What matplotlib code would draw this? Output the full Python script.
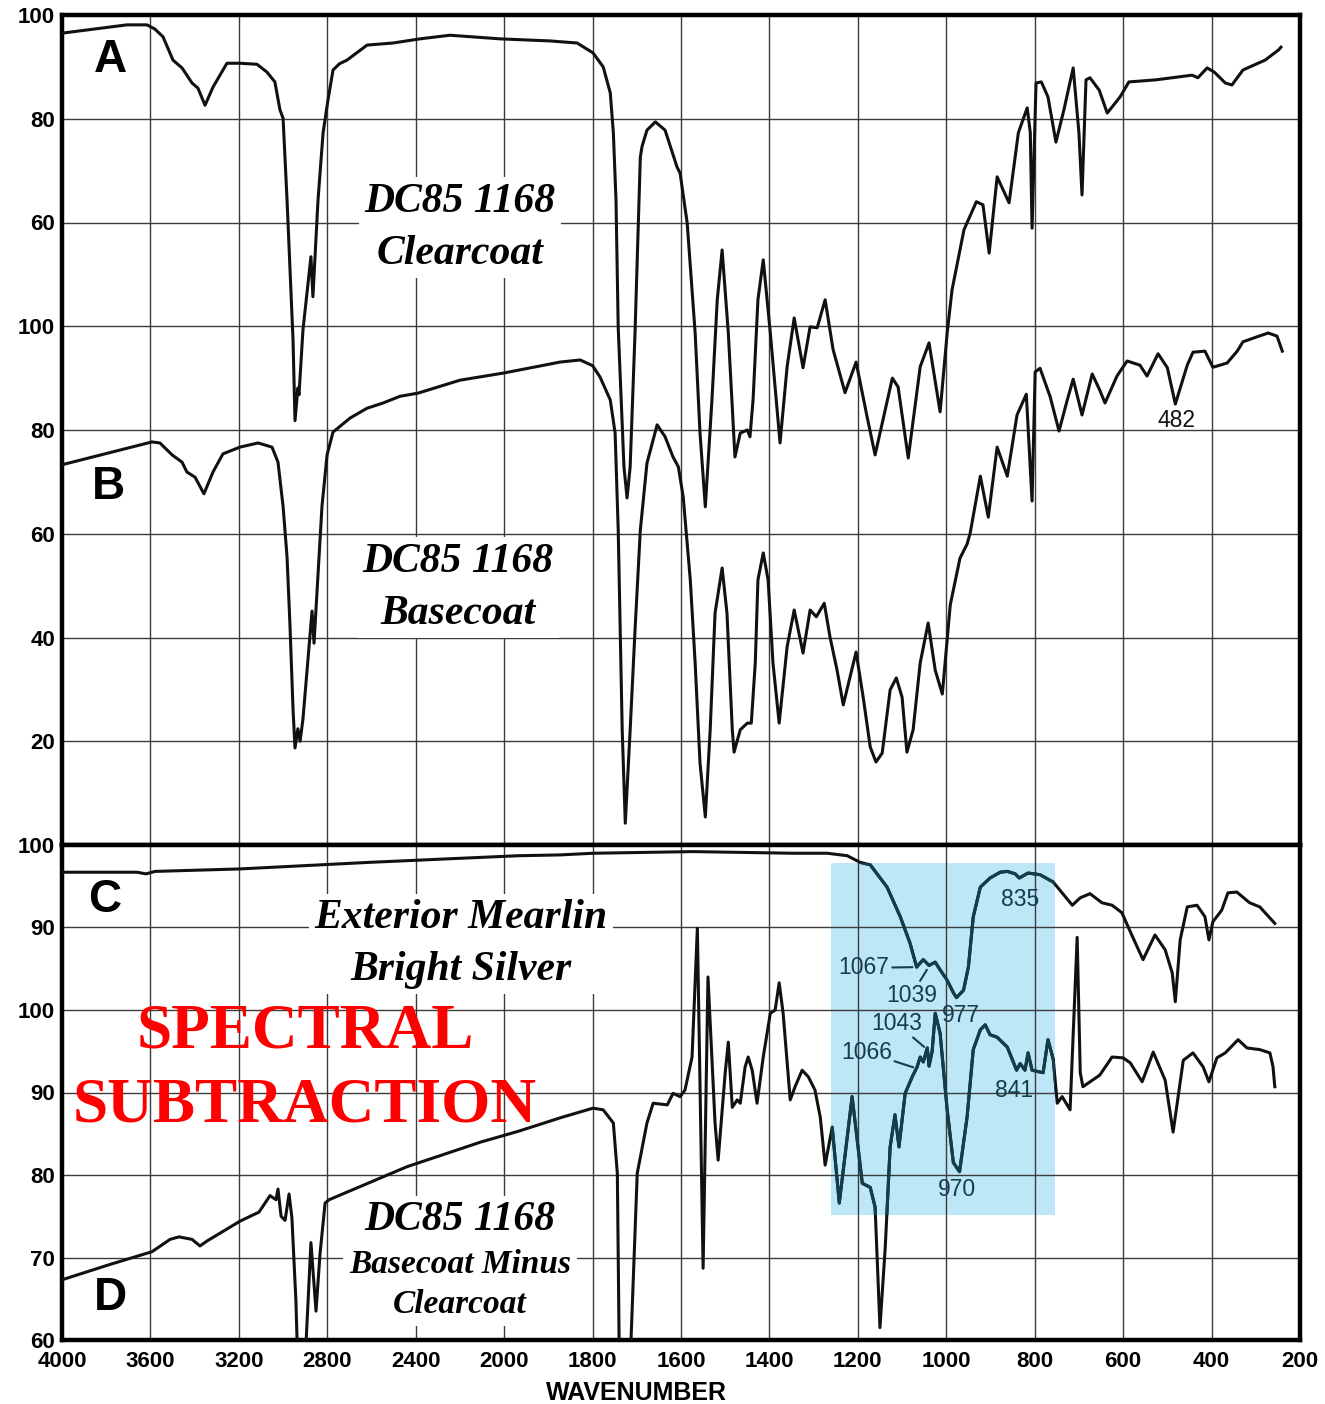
import numpy as np
import matplotlib
matplotlib.use("Agg")
import matplotlib.pyplot as plt
from matplotlib.patches import Rectangle

plt.rcParams['font.family'] = ['Liberation Sans', 'DejaVu Sans']

# (wavenumber, %T) pairs
CLEARCOAT = [(4000, 96.5), (3706, 98.1), (3616, 98.1), (3580, 97.3), (3543, 95.8), (3498, 91.3),
             (3457, 89.8), (3412, 86.9), (3385, 85.9), (3353, 82.6), (3317, 86.1), (3254, 90.7),
             (3195, 90.7), (3118, 90.5), (3073, 89.0), (3037, 87.1), (3014, 81.7), (3000, 80.1),
             (2982, 64.3), (2955, 37.4), (2946, 21.8), (2933, 28.1), (2928, 26.8), (2910, 39.3),
             (2874, 53.4), (2865, 45.7), (2842, 64.3), (2819, 77.3), (2797, 83.6), (2774, 89.4),
             (2745, 90.6), (2711, 91.3), (2620, 94.2), (2503, 94.6), (2381, 95.4), (2245, 96.1),
             (2018, 95.4), (1896, 95.0), (1835, 94.6), (1799, 92.7), (1776, 90.0), (1760, 85.0),
             (1753, 77.3), (1747, 64.3), (1742, 39.7), (1729, 12.9), (1722, 6.9), (1715, 12.9),
             (1704, 38.7), (1692, 72.6), (1688, 74.7), (1677, 77.8), (1658, 79.4), (1636, 77.8),
             (1609, 70.7), (1602, 69.5), (1586, 59.9), (1568, 38.7), (1557, 19.4), (1545, 5.2),
             (1530, 25.8), (1518, 45.1), (1507, 54.7), (1493, 38.7), (1478, 14.8), (1466, 19.4),
             (1450, 20.0), (1444, 18.7), (1437, 25.8), (1426, 45.1), (1414, 52.8), (1398, 38.7),
             (1376, 17.5), (1360, 32.2), (1344, 41.6), (1324, 32.0), (1308, 39.9), (1292, 39.7),
             (1274, 45.1), (1256, 35.5), (1229, 27.2), (1204, 33.1), (1179, 22.5), (1161, 15.2),
             (1122, 30.0), (1109, 28.3), (1086, 14.6), (1059, 32.2), (1039, 36.8), (1014, 23.5),
             (998, 38.7), (987, 47.0), (960, 58.6), (932, 64.0), (917, 63.4), (903, 54.1),
             (885, 68.8), (858, 63.8), (837, 77.3), (817, 82.1), (810, 77.3), (806, 58.9),
             (797, 86.9), (785, 87.1), (770, 84.2), (752, 75.5), (734, 81.7), (713, 89.8),
             (700, 77.3), (693, 65.3), (684, 87.5), (675, 87.9), (654, 85.5), (636, 81.1),
             (607, 84.2), (587, 87.1), (526, 87.5), (444, 88.4), (431, 87.9), (410, 89.8),
             (394, 89.0), (369, 86.9), (354, 86.5), (329, 89.4), (279, 91.3), (248, 93.3),
             (243, 93.8)]

BASECOAT = [(4000, 73.3), (3593, 77.7), (3557, 77.5), (3502, 75.2), (3457, 73.8), (3435, 71.9),
            (3398, 70.9), (3358, 67.7), (3317, 71.9), (3272, 75.4), (3195, 76.7), (3113, 77.5),
            (3050, 76.7), (3023, 73.8), (3000, 65.3), (2982, 55.5), (2969, 42.6), (2955, 26.2),
            (2946, 18.7), (2933, 22.4), (2923, 20.0), (2910, 24.3), (2887, 36.0), (2869, 45.1),
            (2860, 38.9), (2842, 52.2), (2824, 65.3), (2801, 75.2), (2774, 79.6), (2697, 82.3),
            (2620, 84.2), (2548, 85.2), (2471, 86.5), (2390, 87.1), (2200, 89.6), (2000, 91.0),
            (1873, 93.1), (1828, 93.5), (1800, 92.4), (1783, 90.2), (1760, 85.8), (1749, 79.4),
            (1742, 60.7), (1733, 22.2), (1726, 4.2), (1715, 22.2), (1704, 41.4), (1692, 60.7),
            (1677, 73.6), (1654, 81.0), (1636, 78.7), (1618, 74.8), (1606, 72.9), (1595, 67.1),
            (1579, 51.1), (1568, 35.1), (1557, 15.8), (1545, 5.4), (1534, 22.2), (1523, 44.7),
            (1507, 53.4), (1496, 44.7), (1484, 22.2), (1480, 17.9), (1466, 22.2), (1450, 23.5),
            (1441, 23.5), (1432, 35.1), (1426, 51.1), (1414, 56.3), (1403, 51.1), (1392, 35.1),
            (1378, 23.5), (1360, 38.2), (1344, 45.3), (1324, 37.0), (1308, 45.3), (1294, 44.0),
            (1276, 46.6), (1263, 40.1), (1247, 33.7), (1233, 27.0), (1204, 37.2), (1188, 28.5),
            (1172, 18.9), (1159, 16.0), (1145, 17.7), (1127, 29.9), (1113, 32.2), (1100, 28.5),
            (1089, 17.9), (1075, 22.2), (1059, 35.1), (1041, 42.8), (1025, 33.7), (1009, 29.1),
            (991, 46.3), (969, 55.3), (953, 58.0), (946, 60.1), (923, 71.1), (905, 63.2),
            (885, 76.7), (862, 71.1), (840, 82.9), (819, 86.9), (806, 66.3), (799, 91.2),
            (788, 91.9), (765, 86.4), (745, 79.8), (727, 85.6), (713, 89.8), (693, 82.9),
            (670, 90.8), (653, 87.7), (641, 85.2), (614, 90.4), (591, 93.3), (562, 92.5),
            (546, 90.4), (521, 94.7), (500, 92.0), (482, 85.0), (455, 92.5), (442, 95.0),
            (415, 95.2), (397, 92.1), (365, 92.9), (342, 95.2), (329, 97.0), (306, 97.7),
            (272, 98.7), (252, 98.1), (240, 95.2)]

SILVER = [(4000, 96.7), (3661, 96.7), (3620, 96.5), (3579, 96.8), (3195, 97.1), (2607, 97.9),
          (2105, 98.5), (1968, 98.7), (1873, 98.8), (1799, 99.0), (1573, 99.2), (1346, 99.0),
          (1269, 99.0), (1224, 98.7), (1195, 97.9), (1172, 97.6), (1134, 94.9), (1104, 91.3),
          (1082, 88.1), (1067, 85.2), (1059, 85.7), (1052, 86.1), (1039, 85.4), (1025, 85.8),
          (1018, 85.2), (998, 83.6), (984, 82.1), (977, 81.5), (961, 82.4), (950, 85.2),
          (939, 91.3), (923, 94.9), (901, 96.0), (878, 96.7), (862, 96.8), (844, 96.5),
          (835, 96.0), (815, 96.6), (788, 96.4), (758, 95.5), (715, 92.7), (697, 93.6),
          (675, 94.1), (648, 93.0), (625, 92.7), (603, 91.8), (578, 88.8), (555, 86.1),
          (528, 89.1), (505, 87.3), (489, 84.5), (482, 81.0), (471, 88.5), (455, 92.5),
          (433, 92.7), (415, 91.3), (406, 88.5), (397, 90.7), (377, 92.1), (363, 94.2),
          (343, 94.3), (314, 93.0), (291, 92.5), (257, 90.5)]

DIFFERENCE = [(4000, 67.3), (3778, 69.2), (3593, 70.7), (3511, 72.2), (3471, 72.5), (3412, 72.2),
              (3376, 71.4), (3344, 72.0), (3195, 74.4), (3109, 75.5), (3059, 77.5), (3032, 77.0),
              (3023, 78.3), (3009, 75.0), (2991, 74.5), (2973, 77.7), (2960, 74.8), (2942, 64.8),
              (2928, 52.0), (2910, 52.0), (2874, 71.8), (2851, 63.5), (2833, 70.4), (2810, 76.6),
              (2792, 77.0), (2440, 81.0), (2105, 84.0), (1968, 85.3), (1869, 87.0), (1799, 88.1),
              (1776, 87.9), (1753, 86.3), (1744, 80.2), (1738, 50.0), (1720, 50.0), (1699, 80.2),
              (1677, 86.3), (1663, 88.7), (1631, 88.5), (1618, 89.9), (1602, 89.5), (1591, 90.3),
              (1575, 94.3), (1563, 109.9), (1550, 68.7), (1539, 104.0), (1523, 86.3), (1516, 81.8),
              (1500, 92.4), (1493, 96.1), (1484, 88.2), (1473, 89.1), (1466, 88.7), (1455, 93.1),
              (1448, 94.3), (1439, 92.7), (1428, 88.7), (1414, 94.3), (1398, 99.6), (1387, 100.0),
              (1378, 103.3), (1369, 99.6), (1353, 89.1), (1342, 90.7), (1326, 92.7), (1312, 91.9),
              (1297, 90.3), (1285, 87.0), (1274, 81.2), (1258, 85.8), (1242, 76.6), (1213, 89.5),
              (1190, 79.0), (1172, 78.5), (1161, 76.1), (1150, 61.5), (1138, 71.3), (1127, 83.4),
              (1116, 87.3), (1107, 83.4), (1093, 89.9), (1077, 91.9), (1066, 93.1), (1059, 94.3),
              (1052, 93.7), (1043, 95.4), (1039, 93.2), (1032, 95.0), (1025, 99.6), (1014, 97.2),
              (998, 87.9), (984, 81.5), (970, 80.4), (953, 87.0), (939, 95.2), (923, 97.6),
              (912, 98.2), (901, 97.0), (885, 96.7), (862, 95.5), (841, 92.7), (833, 93.5),
              (822, 92.7), (815, 94.8), (806, 92.7), (781, 92.4), (770, 96.4), (758, 94.0),
              (749, 88.7), (738, 89.5), (720, 87.9), (704, 108.8), (697, 92.4), (691, 90.7),
              (653, 92.1), (625, 94.3), (600, 94.2), (584, 93.6), (557, 91.3), (532, 94.9),
              (505, 91.5), (487, 85.2), (464, 93.9), (442, 94.8), (419, 93.1), (406, 91.3),
              (388, 94.2), (369, 94.8), (340, 96.4), (320, 95.4), (291, 95.2), (268, 94.8),
              (261, 93.1), (257, 90.7)]

# vertical offsets used to stack two spectra in one frame
A_SHIFT = 60
C_SHIFT = 20

X_TICKS = [4000, 3600, 3200, 2800, 2400, 2000, 1800, 1600, 1400, 1200, 1000, 800, 600, 400, 200]
TOP_TICKS = [20, 40, 60, 80, 100, 120, 140, 160]
TOP_LABELS = ['20', '40', '60', '80', '100', '60', '80', '100']
BOT_TICKS = [60, 70, 80, 90, 100, 110, 120]
BOT_LABELS = ['60', '70', '80', '90', '100', '90', '100']

# band labels: (text, wavenumber, value) on the lower frame
PEAK_LABELS = [('835', 833, 113.4), ('977', 966, 99.3), ('970', 975, 78.2), ('841', 846, 90.3)]
PEAK_LEADERS = [('1067', 1186, 105.1, 1067, 105.2), ('1039', 1079, 101.8, 1039, 105.3),
                ('1043', 1113, 98.4, 1043, 95.2), ('1066', 1181, 94.9, 1066, 92.9)]


def fwd(w):
    # below 2000 cm-1 the chart uses double the scale
    w = np.asarray(w, dtype=float)
    return np.where(w <= 2000, w / 200.0, 10.0 + (w - 2000.0) / 400.0)


def inv(p):
    p = np.asarray(p, dtype=float)
    return np.where(p <= 10, p * 200.0, 2000.0 + (p - 10.0) * 400.0)


def unzip(pairs):
    arr = np.array(pairs, dtype=float)
    return arr[:, 0], arr[:, 1]


W, H = 1325, 1404
fig = plt.figure(figsize=(W / 100, H / 100), dpi=100)
ax1 = fig.add_axes([62 / W, 1 - 845 / H, 1238 / W, 830 / H])
ax2 = fig.add_axes([62 / W, 1 - 1340 / H, 1238 / W, 495 / H])

for ax in (ax1, ax2):
    ax.set_xscale('function', functions=(fwd, inv))
    ax.set_xlim(4000, 200)
    ax.set_xticks(X_TICKS)
    ax.grid(True, color='#3c3c3c', linewidth=1.0)
    ax.tick_params(length=0, labelsize=16, pad=5)
    ax.tick_params(axis='x', pad=8)
    for s in ax.spines.values():
        s.set_linewidth(3.2)

ax1.set_ylim(0, 160)
ax1.set_yticks(TOP_TICKS)
ax1.set_yticklabels(TOP_LABELS, fontweight='bold')
ax1.tick_params(labelbottom=False)

ax2.set_ylim(60, 120)
ax2.set_yticks(BOT_TICKS)
ax2.set_yticklabels(BOT_LABELS, fontweight='bold')
ax2.set_xticklabels([str(t) for t in X_TICKS], fontweight='bold')
ax2.set_xlabel('WAVENUMBER', fontsize=18, fontweight='bold')
ax2.xaxis.set_label_coords(0.4637, -0.083)

line_kw = dict(color='#111111', linewidth=2.2, solid_joinstyle='round', zorder=3)

wa, ta = unzip(CLEARCOAT)
wb, tb = unzip(BASECOAT)
ax1.plot(wa, ta + A_SHIFT, **line_kw)
ax1.plot(wb, tb, **line_kw)

wc, tc = unzip(SILVER)
wd, td = unzip(DIFFERENCE)
ax2.plot(wc, tc + C_SHIFT, **line_kw)
ax2.plot(wd, td, **line_kw)

# highlighted fingerprint window, traces tinted inside it
teal = '#123e4c'
box = Rectangle((754, 75.2), 1260 - 754, 117.8 - 75.2, facecolor='#bde6f6',
                edgecolor='none', zorder=1)
ax2.add_patch(box)
for w, t in ((wc, tc + C_SHIFT), (wd, td)):
    ln, = ax2.plot(w, t, color=teal, linewidth=2.2, zorder=3.5)
    ln.set_clip_path(box)

label_kw = dict(fontsize=16.5, color=teal, ha='center', va='center', zorder=5)
for txt, w, y in PEAK_LABELS:
    ax2.text(w, y, txt, **label_kw)
for txt, wt, yt, wp, yp in PEAK_LEADERS:
    ax2.annotate(txt, xy=(wp, yp), xytext=(wt, yt), **label_kw,
                 arrowprops=dict(arrowstyle='-', color=teal, lw=1.5, shrinkA=0, shrinkB=3))

ax1.text(480, 81.9, '482', fontsize=16.5, color='#111111', ha='center', va='center', zorder=5)

# panel letters
letter_kw = dict(fontsize=33, fontweight='bold', ha='center', va='center', zorder=5)
ax1.text(3783, 151.3, 'A', **letter_kw)
ax1.text(3792, 69.0, 'B', **letter_kw)
ax2.text(3806, 113.3, 'C', **letter_kw)
ax2.text(3783, 65.1, 'D', **letter_kw)

serif = ['Liberation Serif', 'DejaVu Serif']
name_kw = dict(family=serif, style='italic', fontweight='bold', ha='center', va='center',
               zorder=4, bbox=dict(facecolor='white', edgecolor='none', pad=4))
ax1.text(2200, 119.0, 'DC85 1168\nClearcoat', fontsize=30, linespacing=1.48, **name_kw)
ax1.text(2209, 49.6, 'DC85 1168\nBasecoat', fontsize=30, linespacing=1.48, **name_kw)
ax2.text(2195, 108.0, 'Exterior Mearlin\nBright Silver', fontsize=30, linespacing=1.48, **name_kw)
ax2.text(2200, 74.5, 'DC85 1168', fontsize=30, **name_kw)
ax2.text(2200, 66.7, 'Basecoat Minus\nClearcoat', fontsize=24, linespacing=1.38, **name_kw)

ax2.text(2901, 92.8, 'SPECTRAL\nSUBTRACTION', family=serif, fontsize=45.5,
         fontweight='bold', color='#ff0000', ha='center', va='center',
         linespacing=1.38, zorder=6)

fig.savefig('out.png', dpi=100)
